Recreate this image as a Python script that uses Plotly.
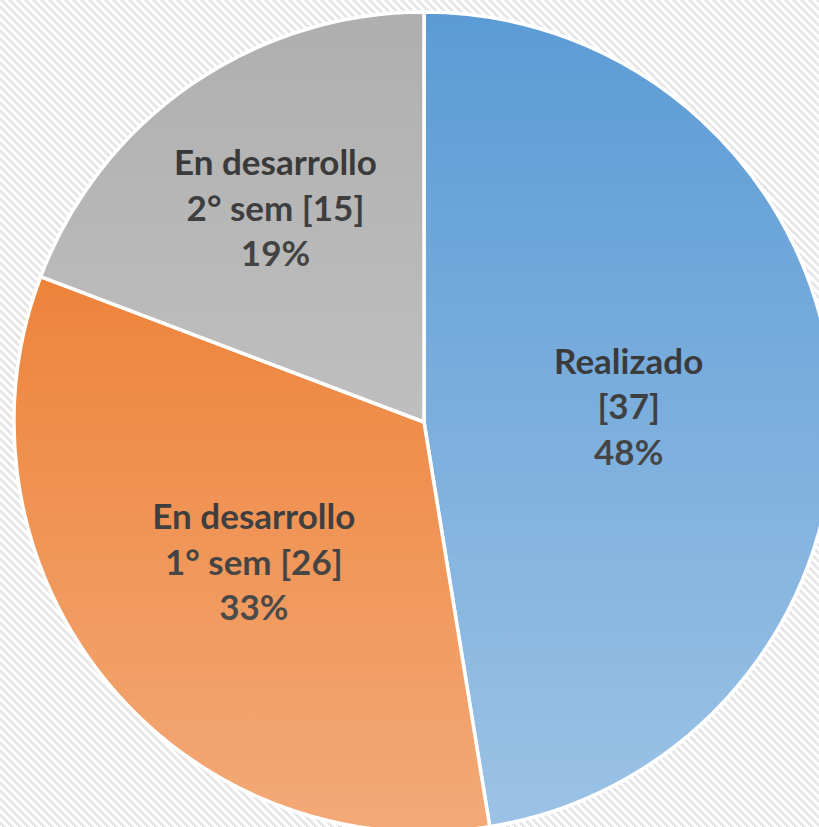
import base64
import plotly.graph_objects as go

# ---- data ----
first_lines = ["Realizado", "En desarrollo", "En desarrollo"]
second_prefix = ["", "1° sem ", "2° sem "]
counts = [37, 26, 15]
pct_labels = ["48%", "33%", "19%"]

# ---- styles ----
slice_colors = ["#5B9BD5", "#EB711E", "#AFAFAF"]
label_colors = ["#121212", "#000000", "#2A2A2A"]

texts = [f"{a}<br>{b}[{c}]<br>{p}" for a, b, c, p in zip(first_lines, second_prefix, counts, pct_labels)]
names = [f"{a} {b}".strip() for a, b in zip(first_lines, second_prefix)]

W, H = 834, 832
ML, MT = 14, 12
PW, PH = W - ML, H - MT


def svg_uri(svg):
    return "data:image/svg+xml;base64," + base64.b64encode(svg.encode("utf-8")).decode("ascii")


# diagonal stripe background pattern (8px tile)
rects = []
for i in range(8):
    s = i % 8
    if s + 4 <= 8:
        rects.append(f'<rect x="{s}" y="{i}" width="4" height="1" fill="#E6E6E6"/>')
    else:
        rects.append(f'<rect x="{s}" y="{i}" width="{8 - s}" height="1" fill="#E6E6E6"/>')
        rects.append(f'<rect x="0" y="{i}" width="{s + 4 - 8}" height="1" fill="#E6E6E6"/>')
bg_svg = (
    f'<svg xmlns="http://www.w3.org/2000/svg" width="{W}" height="{H}" viewBox="0 0 {W} {H}" shape-rendering="crispEdges">'
    '<defs><pattern id="p" width="8" height="8" patternUnits="userSpaceOnUse">'
    + "".join(rects)
    + f'</pattern></defs><rect width="{W}" height="{H}" fill="#FFFFFF"/><rect width="{W}" height="{H}" fill="url(#p)"/></svg>'
)

# vertical light gradient overlay on the pie disc
ov_svg = (
    f'<svg xmlns="http://www.w3.org/2000/svg" width="{PW}" height="{PH}" viewBox="0 0 {PW} {PH}">'
    '<defs><linearGradient id="g" x1="0" y1="0" x2="0" y2="1">'
    '<stop offset="0" stop-color="#FFFFFF" stop-opacity="0"/>'
    '<stop offset="1" stop-color="#FFFFFF" stop-opacity="0.4"/>'
    f'</linearGradient></defs><circle cx="{PW/2}" cy="{PH/2}" r="{PW/2 + 2}" fill="url(#g)"/></svg>'
)

fig = go.Figure(
    go.Pie(
        labels=names,
        values=counts,
        text=texts,
        textinfo="text",
        textposition="inside",
        insidetextorientation="horizontal",
        sort=False,
        direction="clockwise",
        rotation=0,
        marker=dict(colors=slice_colors, line=dict(color="#FFFFFF", width=3.5)),
        textfont=dict(family="Lato", size=35, color=label_colors, weight="bold"),
        hoverinfo="skip",
        showlegend=False,
    )
)

fig.update_layout(
    width=W,
    height=H,
    margin=dict(l=ML, r=0, t=MT, b=0, pad=0),
    paper_bgcolor="#FFFFFF",
    plot_bgcolor="#FFFFFF",
    uniformtext=dict(minsize=10),
    images=[
        dict(source=svg_uri(bg_svg), xref="paper", yref="paper",
             x=-ML / PW, y=1 + MT / PH, sizex=W / PW, sizey=H / PH,
             xanchor="left", yanchor="top", sizing="stretch", layer="below"),
        dict(source=svg_uri(ov_svg), xref="paper", yref="paper",
             x=0, y=1, sizex=1, sizey=1,
             xanchor="left", yanchor="top", sizing="stretch", layer="above"),
    ],
)

fig.write_html(
    "out.html",
    config={"displayModeBar": False},
    post_script="document.body.style.margin='0';document.body.style.overflow='hidden';",
)
